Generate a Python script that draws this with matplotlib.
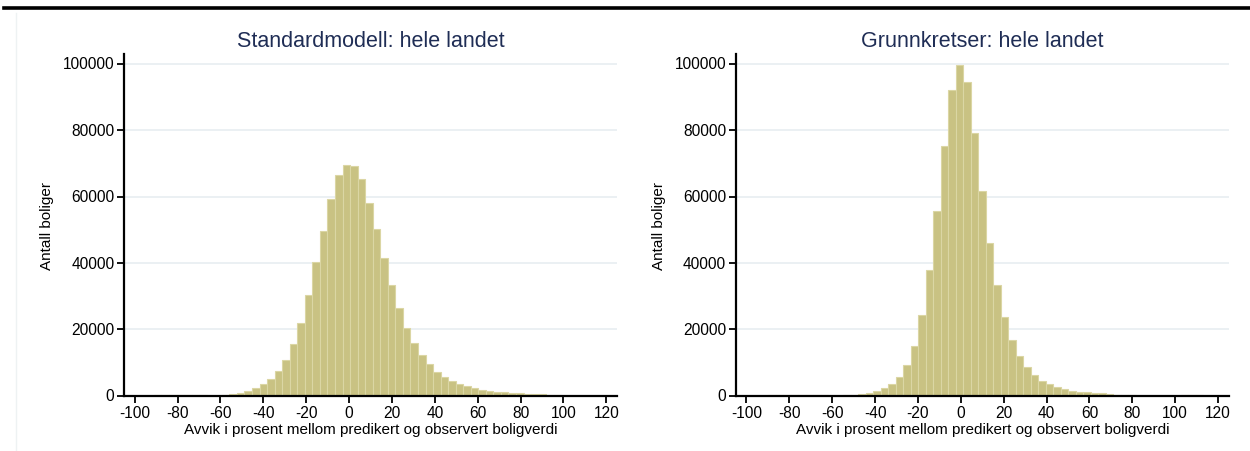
import numpy as np
import matplotlib
matplotlib.use("Agg")
import matplotlib.pyplot as plt
from matplotlib.lines import Line2D

plt.rcParams['font.family'] = ['Liberation Sans', 'DejaVu Sans']
plt.rcParams['axes.unicode_minus'] = False

# Histogram data (60 bins per panel)
left_title = "Standardmodell: hele landet"
left_start = -98.1
left_width = 3.52
left_counts = [50, 50, 100, 300, 300, 300, 300, 300, 300, 50,
               50, 100, 500, 800, 1400, 2200, 3500, 5000, 7400, 10800,
               15600, 21900, 30400, 40200, 49700, 59300, 66500, 69500, 69100, 65300,
               58100, 50300, 41400, 33400, 26300, 20300, 15900, 12300, 9600, 7300,
               5500, 4300, 3500, 2800, 2200, 1700, 1400, 1200, 1000, 900,
               800, 600, 500, 400, 350, 300, 30, 30, 30, 30]

right_title = "Grunnkretser: hele landet"
right_start = -96.9
right_width = 3.5
right_counts = [50, 50, 100, 300, 300, 300, 300, 300, 300, 300,
                50, 50, 100, 150, 400, 800, 1300, 2200, 3500, 5500,
                9300, 15000, 24200, 37800, 55600, 75200, 92100, 99700, 94500, 79300,
                61800, 45900, 33300, 23700, 16700, 11900, 8600, 6200, 4500, 3500,
                2600, 1900, 1500, 1200, 1000, 800, 700, 400, 300, 200,
                150, 50, 50, 50, 50, 50, 50, 100, 100, 100]

x_ticks = [-100, -80, -60, -40, -20, 0, 20, 40, 60, 80, 100, 120]
y_ticks = [0, 20000, 40000, 60000, 80000, 100000]
x_label = "Avvik i prosent mellom predikert og observert boligverdi"
y_label = "Antall boliger"

bar_color = "#c9c283"
bar_edge = "#dbd6a4"
grid_color = "#e9eff2"
title_color = "#1f2d55"

fig = plt.figure(figsize=(12.5, 4.52), dpi=100)

# thick rule at the top and faint panel border
fig.add_artist(Line2D([0.003, 1.0], [0.979, 0.979], color="black", lw=2.6))
fig.add_artist(Line2D([0.0125, 0.0125], [0.0, 0.97], color="#eef2f3", lw=1.0))

panels = [
    (0.0992, left_title, left_start, left_width, left_counts),
    (0.5886, right_title, right_start, right_width, right_counts),
]

for x0, title, start, width, counts in panels:
    ax = fig.add_axes([x0, 0.1223, 0.3944, 0.756])
    edges = start + width * np.arange(len(counts))
    ax.bar(edges, counts, width=width, align='edge', color=bar_color,
           edgecolor=bar_edge, linewidth=0.8, zorder=2)
    ax.set_xlim(-105, 125)
    ax.set_ylim(0, 103000)
    ax.set_xticks(x_ticks)
    ax.set_yticks(y_ticks)
    ax.tick_params(axis='both', labelsize=11.2, length=5, width=1.3,
                   color='black', labelcolor='black', pad=2)
    for tl in ax.get_yticklabels():
        tl.set_verticalalignment('center')
    ax.yaxis.grid(True, color=grid_color, lw=1.3, zorder=0)
    ax.set_axisbelow(True)
    for s in ['top', 'right']:
        ax.spines[s].set_visible(False)
    for s in ['left', 'bottom']:
        ax.spines[s].set_linewidth(1.6)
    ax.set_title(title, fontsize=15.5, color=title_color, pad=6)
    ax.set_xlabel(x_label, fontsize=11, labelpad=1)
    ax.set_ylabel(y_label, fontsize=11, labelpad=6)

fig.savefig("out.png", dpi=100)
